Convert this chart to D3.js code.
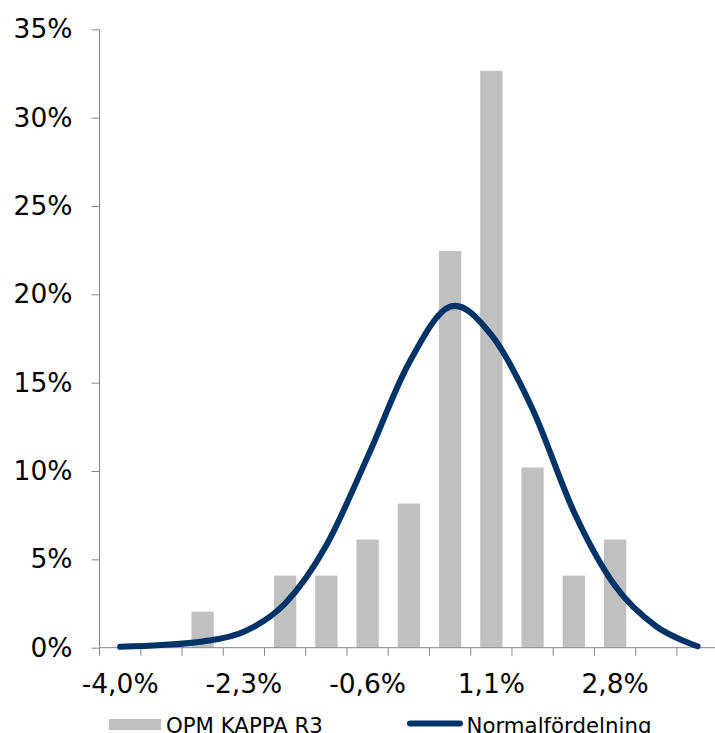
<!DOCTYPE html>
<html>
<head>
<meta charset="utf-8">
<script src="https://cdn.jsdelivr.net/npm/d3@7/dist/d3.min.js"></script>
<style>
  html, body { margin: 0; padding: 0; background: #fff; overflow: hidden; }
  svg { display: block; font-family: "DejaVu Sans", Verdana, sans-serif; }
</style>
</head>
<body>
<svg id="chart" width="715" height="733"></svg>
<script>
// ---- data ----
const categories = ["-4,0%", "-3,4%", "-2,9%", "-2,3%", "-1,7%", "-1,2%", "-0,6%", "0,0%", "0,5%", "1,1%", "1,7%", "2,2%", "2,8%", "3,4%", "3,9%"];
const shownLabels = ["-4,0%", "-2,3%", "-0,6%", "1,1%", "2,8%"];
const barValues = [0, 0, 2.04, 0, 4.08, 4.08, 6.12, 8.16, 22.45, 32.65, 10.2, 4.08, 6.12, 0, 0];
const normalValues = [0.05, 0.15, 0.35, 0.9, 2.5, 5.8, 10.8, 16.1, 19.3, 17.7, 13.5, 7.7, 3.5, 1.2, 0.08];
const yTicks = [0, 5, 10, 15, 20, 25, 30, 35];
const seriesNames = ["OPM KAPPA R3", "Normalfördelning"];

// ---- layout ----
(function () {
const svg = d3.select("#chart");
const pLeft = 99.5, pRight = 718.2, pTop = 29.3, pBottom = 647.7;

const x = d3.scaleBand().domain(categories).range([pLeft, pRight]).padding(0);
const y = d3.scaleLinear().domain([0, 35]).range([pBottom, pTop]);

const axisColor = "#868686";
const barColor = "#C0C0C0";
const lineColor = "#003366";

// bars
const bw = x.bandwidth() * 0.54;
svg.append("g").selectAll("rect")
  .data(categories.map((c, i) => ({ c, v: barValues[i] })).filter(d => d.v > 0))
  .enter().append("rect")
  .attr("x", d => x(d.c) + (x.bandwidth() - bw) / 2)
  .attr("width", bw)
  .attr("y", d => y(d.v))
  .attr("height", d => y(0) - y(d.v))
  .attr("fill", barColor);

// y axis
const yAxis = d3.axisLeft(y).tickValues(yTicks).tickSize(8).tickPadding(19)
  .tickFormat(d => d + "%");
const gy = svg.append("g").attr("transform", `translate(${pLeft},0)`).call(yAxis);
gy.select(".domain").attr("stroke", axisColor).attr("d", `M0,${pTop}V${pBottom}`);
gy.selectAll(".tick line").attr("stroke", axisColor);
gy.selectAll(".tick text").attr("font-size", "26.5px").attr("fill", "#000")
  .attr("font-family", "DejaVu Sans, Verdana, sans-serif");

// x axis
const gx = svg.append("g").attr("transform", `translate(0,${pBottom})`);
gx.append("line").attr("x1", pLeft).attr("x2", pRight).attr("y1", 0).attr("y2", 0).attr("stroke", axisColor);
const tickPos = d3.range(categories.length + 1).map(i => pLeft + i * x.step());
gx.selectAll("line.tk").data(tickPos).enter().append("line").attr("class", "tk")
  .attr("x1", d => d).attr("x2", d => d).attr("y1", 0).attr("y2", 8).attr("stroke", axisColor);
gx.selectAll("text").data(shownLabels).enter().append("text")
  .attr("x", d => x(d) + x.bandwidth() / 2)
  .attr("y", 45.5)
  .attr("text-anchor", "middle")
  .attr("font-size", "26.5px")
  .attr("fill", "#000")
  .text(d => d);

// normal curve
const line = d3.line()
  .x((d, i) => x(categories[i]) + x.bandwidth() / 2)
  .y(d => y(d))
  .curve(d3.curveCatmullRom.alpha(0));
svg.append("path").datum(normalValues)
  .attr("d", line)
  .attr("fill", "none")
  .attr("stroke", lineColor)
  .attr("stroke-width", 6)
  .attr("stroke-linecap", "round")
  .attr("stroke-linejoin", "round");

// legend
const lg = svg.append("g");
lg.append("rect").attr("x", 109).attr("y", 719).attr("width", 52).attr("height", 11).attr("fill", barColor);
lg.append("text").attr("x", 166).attr("y", 732.5).attr("font-size", "21.3px").attr("fill", "#000").text(seriesNames[0]);
lg.append("line").attr("x1", 410).attr("x2", 460).attr("y1", 723.5).attr("y2", 723.5)
  .attr("stroke", lineColor).attr("stroke-width", 6).attr("stroke-linecap", "round");
lg.append("text").attr("x", 466.5).attr("y", 732.5).attr("font-size", "21.3px").attr("fill", "#000").text(seriesNames[1]);
})();
</script>
</body>
</html>
